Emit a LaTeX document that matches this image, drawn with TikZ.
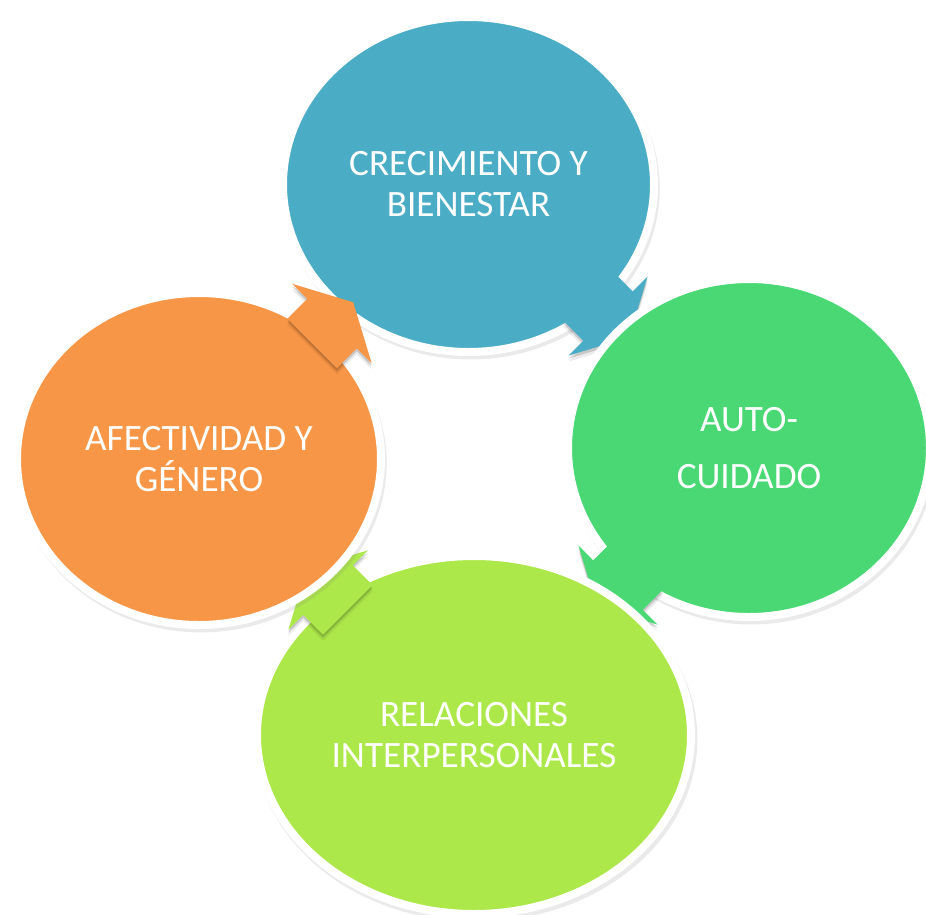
\documentclass[tikz,border=0pt]{standalone}
\usepackage{fontspec}
\setmainfont{Carlito}
\usetikzlibrary{shapes.geometric,shadows}
\definecolor{cblue}{HTML}{4BACC6}
\definecolor{cgreen}{HTML}{4AD874}
\definecolor{clime}{HTML}{ADE84A}
\definecolor{corange}{HTML}{F79646}
\tikzset{
  cyc/.style={ellipse, draw=white, line width=8pt, inner sep=0pt, text=white,
    align=center, font=\fontsize{37.2}{41}\selectfont,
    drop shadow={shadow xshift=2pt, shadow yshift=-4pt, opacity=0.16, shadow scale=1.02}},
}
\newcommand\arrowfill[1]{\fill[#1] (-28,-35) -- (0,-35) -- (0,-56) -- (30,0) -- (0,56) -- (0,35) -- (-28,35) -- cycle;}
\newcommand\cycarrow[3]{%
  \begin{scope}[yshift=-6pt]\begin{scope}[shift={#1},rotate=#2]\arrowfill{black,opacity=0.08}\end{scope}\end{scope}
  \begin{scope}[yshift=-3pt]\begin{scope}[shift={#1},rotate=#2]\arrowfill{black,opacity=0.15}\end{scope}\end{scope}
  \begin{scope}[shift={#1},rotate=#2]\arrowfill{#3}\end{scope}}
\begin{document}
\begin{tikzpicture}[x=1pt,y=-1pt]
\useasboundingbox[fill=white] (0,0) rectangle (926,914);
\node[cyc, fill=cblue, minimum width=371pt, minimum height=335pt] (blue) at (468.5,184.5) {CRECIMIENTO Y\\BIENESTAR};
\cycarrow{(608,316)}{-45}{cblue}
\node[cyc, fill=cgreen, minimum width=362pt, minimum height=338pt] (green) at (749,448) {AUTO-\\[16pt]CUIDADO};
\cycarrow{(618,585)}{-135}{cgreen}
\node[cyc, fill=clime, minimum width=434pt, minimum height=358pt] (lime) at (474,735) {RELACIONES\\INTERPERSONALES};
\cycarrow{(328,590)}{135}{clime}
\node[cyc, fill=corange, minimum width=364pt, minimum height=332pt] (orange) at (199,459) {AFECTIVIDAD Y\\GÉNERO};
\cycarrow{(332,323.5)}{45}{corange}
\end{tikzpicture}
\end{document}
